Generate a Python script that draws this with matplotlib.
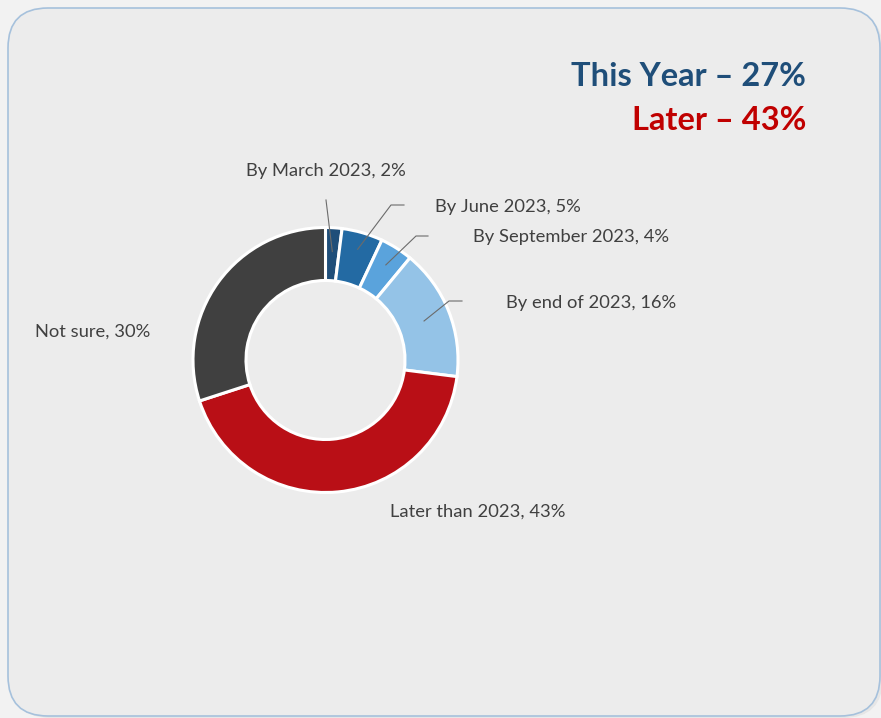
import matplotlib
matplotlib.use("Agg")
import matplotlib.pyplot as plt
import numpy as np
from matplotlib.patches import FancyBboxPatch

plt.rcParams['font.family'] = ['Lato', 'DejaVu Sans']

# data
labels = ["By March 2023", "By June 2023", "By September 2023", "By end of 2023",
          "Later than 2023", "Not sure"]
values = [2, 5, 4, 16, 43, 30]
colors = ["#1f4e79", "#236aa3", "#5aa3dc", "#94c3e7", "#b90f16", "#404040"]
summary = [("This Year \u2013 27%", "#1f4e79"), ("Later \u2013 43%", "#c00000")]

W, H = 881, 718
fig = plt.figure(figsize=(W / 100, H / 100), dpi=100, facecolor="#f2f2f2")

# background card (pixel units)
bg = fig.add_axes([0, 0, 1, 1])
bg.set_xlim(0, W); bg.set_ylim(H, 0); bg.axis("off")
bg.add_patch(FancyBboxPatch((11, 11), 872, 707, boxstyle="round,pad=0,rounding_size=40",
                            fc="#dedede", ec="none", alpha=0.6))
bg.add_patch(FancyBboxPatch((8, 8), 872, 708, boxstyle="round,pad=0,rounding_size=40",
                            fc="#ececec", ec="#a6c1dc", lw=1.2))
bg.text(806, 76, summary[0][0], color=summary[0][1], fontsize=23.5, fontweight="bold",
        ha="right", va="center")
bg.text(806, 121, summary[1][0], color=summary[1][1], fontsize=23.5, fontweight="bold",
        ha="right", va="center")

# donut
cx, cy, R = 325.5, 360, 132.5
ax = fig.add_axes([(cx - R) / W, (H - cy - R) / H, 2 * R / W, 2 * R / H])
wedges, _ = ax.pie(values, colors=colors, startangle=90, counterclock=False, radius=1,
                   wedgeprops=dict(width=0.4, edgecolor="white", linewidth=2.2))
ax.set_xlim(-1, 1); ax.set_ylim(-1, 1); ax.axis("off")


def px(x, y):
    return (x - cx) / R, (cy - y) / R


# labels: (text pos px, ha, leader elbow px, leader end px, radius of anchor)
lab_pos = [((326, 171), "center", None, (326, 200), 0.82),
           ((435, 207), "left", (391, 205), (404, 205), 0.87),
           ((473, 237), "left", (416, 236), (428, 236), 0.85),
           ((506, 303), "left", (449, 301), (462, 301), 0.80),
           ((478, 512), "center", None, None, 0),
           ((93, 332), "center", None, None, 0)]

cum = np.cumsum([0] + values)
tc = "#404040"
for i, (lab, v) in enumerate(zip(labels, values)):
    (tx, ty), ha, elbow, end, r = lab_pos[i]
    x, y = px(tx, ty)
    ax.text(x, y, f"{lab}, {v}%", fontsize=13.2, color=tc, ha=ha, va="center", clip_on=False)
    if end is None:
        continue
    ang = np.deg2rad(90 - 360 * (cum[i] + v / 2) / 100)
    ax0, ay0 = r * np.cos(ang), r * np.sin(ang)
    pts = [(ax0, ay0)]
    if elbow is not None:
        pts.append(px(*elbow))
    pts.append(px(*end))
    pts = np.array(pts)
    ax.plot(pts[:, 0], pts[:, 1], color="#6b6b6b", lw=0.8, clip_on=False)

fig.savefig("out.png", dpi=100, facecolor=fig.get_facecolor())
